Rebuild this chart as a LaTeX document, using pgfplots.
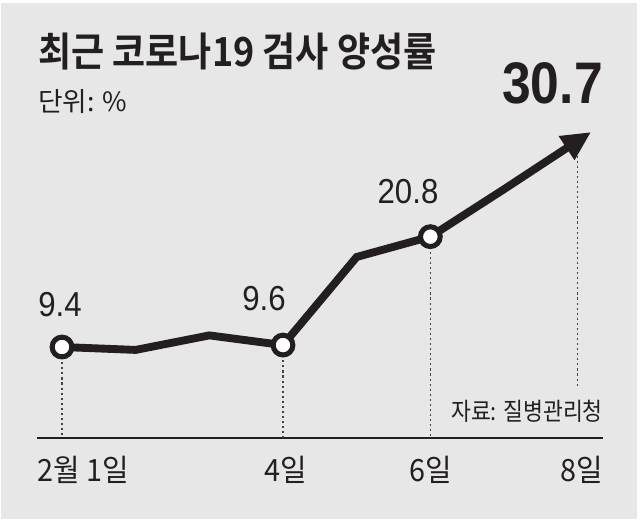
\documentclass[border=0pt]{standalone}
\usepackage{pgfplots}
\pgfplotsset{compat=1.18}
\usepackage{fontspec}
\usetikzlibrary{arrows.meta}
\setmainfont{Liberation Sans}
\newfontfamily\kr[BoldFont={Noto Sans CJK KR Bold}]{Noto Sans CJK KR}
\definecolor{bg}{RGB}{231,231,231}
\definecolor{ink}{RGB}{35,31,32}
\begin{document}
\begin{tikzpicture}
\begin{axis}[
  width=480pt, height=390pt, scale only axis,
  xmin=0.1584, xmax=8.8459, ymin=-8.471, ymax=45.248,
  hide axis, clip=false,
]
\fill[white] (rel axis cs:0,0) rectangle (rel axis cs:1,1);
\fill[bg] (rel axis cs:0.002,0.002) rectangle (rel axis cs:0.995,0.994);
% baseline
\addplot[ink, line width=1.1pt] coordinates {(0.6606,0) (8.3436,0)};
% dotted guides
\addplot[ink!85, line width=0.9pt, dash pattern=on 1.6pt off 2.2pt] coordinates {(1,9.4) (1,0)};
\addplot[ink!85, line width=0.9pt, dash pattern=on 1.6pt off 2.2pt] coordinates {(4,9.6) (4,0)};
\addplot[ink!85, line width=0.9pt, dash pattern=on 1.6pt off 2.2pt] coordinates {(6,20.8) (6,0)};
\addplot[ink!85, line width=0.9pt, dash pattern=on 1.6pt off 2.2pt] coordinates {(8,29.7) (8,5.2)};
% main line
\addplot[ink, line width=5.9pt, line join=miter, shorten >=-12pt,
  -{Triangle[length=22pt, width=20pt]}] coordinates {
  (1,9.4) (2,9.1) (3,10.6) (4,9.6) (5,18.7) (6,20.8) (7,25.7) (8,30.7)};
% markers
\addplot[only marks, mark=*, mark size=7.4pt,
  mark options={fill=white, draw=ink, line width=3.8pt}] coordinates {
  (1,9.4) (4,9.6) (6,20.8)};
% texts
\node[anchor=base west, inner sep=0, text=ink] at (rel axis cs:0.0594,0.8712)
  {\scalebox{0.9}[1]{\kr\bfseries\fontsize{30pt}{31pt}\selectfont 최근 코로나19 검사 양성률}};
\node[anchor=base west, inner sep=0, text=ink] at (rel axis cs:0.0594,0.7865)
  {\kr\fontsize{20pt}{21pt}\selectfont 단위: \%};
\node[anchor=base east, inner sep=0, text=ink] at (rel axis cs:0.9422,0.8019)
  {\scalebox{0.88}[1]{\bfseries\fontsize{44pt}{45pt}\selectfont 30.7}};
\node[anchor=base, inner sep=0, text=ink] at (rel axis cs:0.09375,0.3904)
  {\scalebox{0.9}[1]{\fontsize{26pt}{27pt}\selectfont 9.4}};
\node[anchor=base, inner sep=0, text=ink] at (rel axis cs:0.4125,0.4038)
  {\scalebox{0.9}[1]{\fontsize{26pt}{27pt}\selectfont 9.6}};
\node[anchor=base, inner sep=0, text=ink] at (rel axis cs:0.6375,0.6096)
  {\scalebox{0.9}[1]{\fontsize{26pt}{27pt}\selectfont 20.8}};
\node[anchor=base west, inner sep=0, text=ink] at (rel axis cs:0.0578,0.075)
  {\scalebox{0.94}[1]{\kr\fontsize{23pt}{24pt}\selectfont 2월 1일}};
\node[anchor=base, inner sep=0, text=ink] at (rel axis cs:0.4469,0.075)
  {\scalebox{0.94}[1]{\kr\fontsize{23pt}{24pt}\selectfont 4일}};
\node[anchor=base, inner sep=0, text=ink] at (rel axis cs:0.6734,0.075)
  {\scalebox{0.94}[1]{\kr\fontsize{23pt}{24pt}\selectfont 6일}};
\node[anchor=base east, inner sep=0, text=ink] at (rel axis cs:0.9422,0.075)
  {\scalebox{0.94}[1]{\kr\fontsize{23pt}{24pt}\selectfont 8일}};
\node[anchor=base east, inner sep=0, text=ink] at (rel axis cs:0.9422,0.1923)
  {\scalebox{0.88}[1]{\kr\fontsize{18.4pt}{19pt}\selectfont 자료: 질병관리청}};
\end{axis}
\end{tikzpicture}
\end{document}
